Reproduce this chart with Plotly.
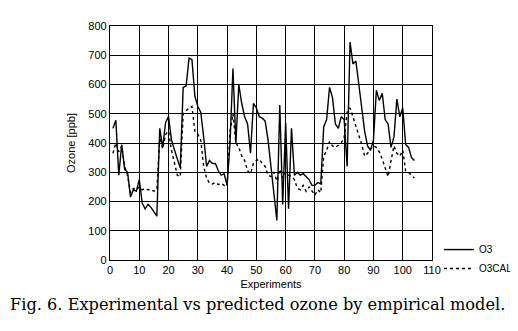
import plotly.graph_objects as go

experiments = list(range(1, 105))
o3 = [450, 478, 290, 395, 310, 300, 215, 240, 235, 275,
      195, 175, 190, 180, 165, 150, 450, 385, 470, 490,
      410, 375, 345, 315, 590, 595, 690, 685, 560, 525,
      505, 420, 320, 340, 330, 330, 305, 290, 295, 255,
      400, 655, 400, 600, 535, 490, 465, 365, 535, 520,
      490, 485, 475, 410, 320, 240, 135, 530, 190, 470,
      175, 450, 290, 300, 290, 295, 285, 275, 255, 255,
      265, 260, 455, 480, 590, 555, 465, 450, 490, 480,
      320, 745, 670, 680, 600, 510, 440, 390, 375, 410,
      580, 545, 570, 480, 465, 385, 420, 550, 490, 520,
      395, 385, 350, 340]
o3cal = [365, 400, 370, 390, 320, 290, 230, 245, 240, 250,
         240, 245, 240, 240, 235, 240, 420, 380, 430, 440,
         375, 330, 290, 285, 500, 510, 520, 525, 440, 430,
         410, 320, 280, 262, 260, 265, 258, 262, 255, 252,
         440, 500, 400, 385, 355, 340, 305, 295, 330, 340,
         345, 330, 320, 290, 285, 300, 270, 310, 280, 300,
         290, 285, 275, 245, 240, 255, 235, 250, 235, 222,
         240, 230, 355, 375, 405, 390, 385, 392, 400, 420,
         505, 520, 490, 455, 430, 395, 355, 365, 380, 390,
         385, 370, 345, 318, 285, 340, 390, 365, 355, 375,
         305, 300, 290, 280]

fig = go.Figure()
fig.add_trace(go.Scatter(x=experiments, y=o3, mode="lines", name="O3",
                         line=dict(color="black", width=1.4)))
fig.add_trace(go.Scatter(x=experiments, y=o3cal, mode="lines", name="O3CAL",
                         line=dict(color="black", width=1.4, dash="dot")))

axis_common = dict(showgrid=True, gridcolor="black", gridwidth=1.3,
                   showline=True, linecolor="black", linewidth=1.3, mirror=True,
                   zeroline=False, ticks="", automargin=False,
                   tickfont=dict(family="Liberation Sans", size=11, color="black"))
fig.update_xaxes(range=[0, 110], dtick=10, tick0=0,
                 title=dict(text="Experiments", font=dict(family="Liberation Sans", size=11, color="black"), standoff=4),
                 **axis_common)
fig.update_yaxes(range=[0, 800], dtick=100, tick0=0,
                 title=dict(text="Ozone [ppb]", font=dict(family="Liberation Sans", size=11, color="black"), standoff=10),
                 **axis_common)

fig.update_layout(
    width=510, height=323,
    margin=dict(l=102, r=86, t=18, b=71, autoexpand=False),
    paper_bgcolor="white", plot_bgcolor="white",
    font=dict(family="Liberation Sans", size=11, color="black"),
    legend=dict(xref="container", yref="container", x=0.845, y=0.297,
                xanchor="left", yanchor="top",
                font=dict(family="Liberation Sans", size=10, color="black"),
                bgcolor="rgba(0,0,0,0)", tracegroupgap=0, itemwidth=30),
    annotations=[dict(text="Fig. 6. Experimental vs predicted ozone by empirical model.",
                      xref="paper", yref="paper", x=-0.317, y=-0.19,
                      xanchor="left", yanchor="middle", showarrow=False,
                      font=dict(family="DejaVu Serif", size=16.2, color="black"))],
)

fig.write_html("out.html")
